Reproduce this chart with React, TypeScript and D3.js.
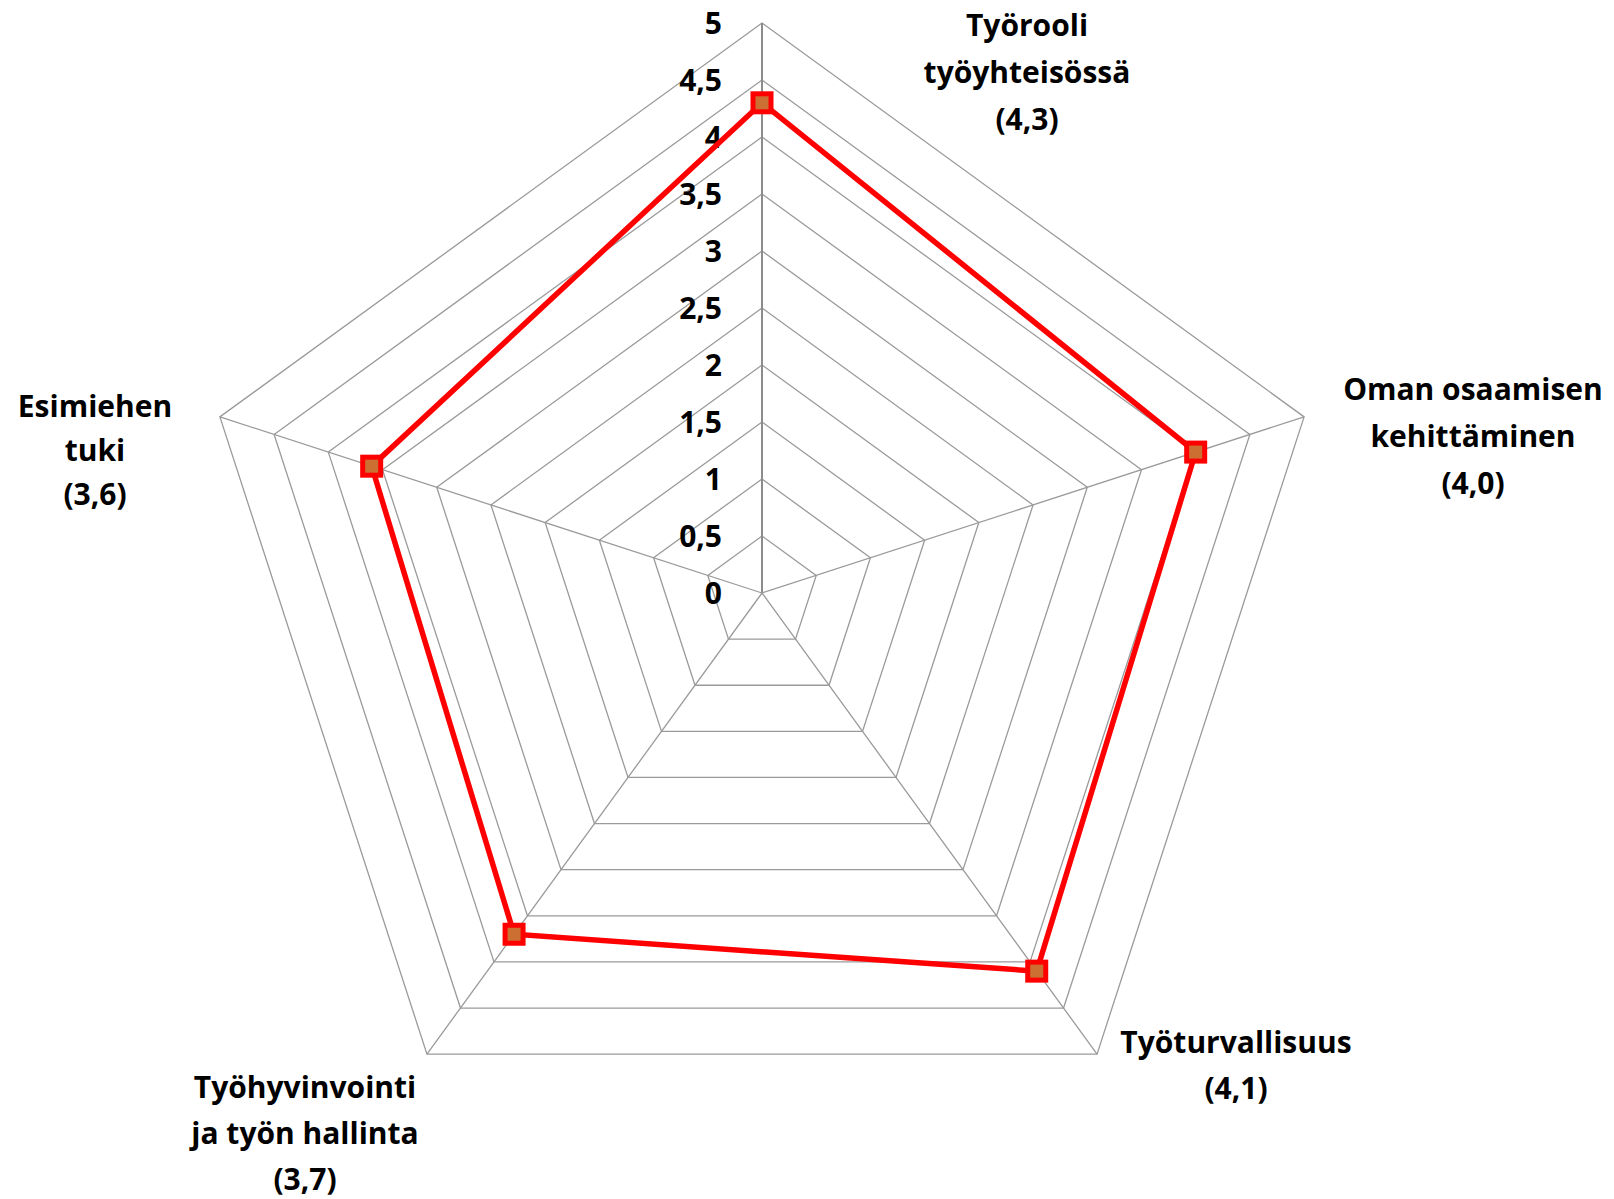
import React from "react";
import * as d3 from "d3";

const categories: string[][] = [
  ["Työrooli", "työyhteisössä", "(4,3)"],
  ["Oman osaamisen", "kehittäminen", "(4,0)"],
  ["Työturvallisuus", "(4,1)"],
  ["Työhyvinvointi", "ja työn hallinta", "(3,7)"],
  ["Esimiehen", "tuki", "(3,6)"],
];
const values: number[] = [4.3, 4.0, 4.1, 3.7, 3.6];
const tickValues: number[] = [0, 0.5, 1, 1.5, 2, 2.5, 3, 3.5, 4, 4.5, 5];
const tickLabels: string[] = ["0", "0,5", "1", "1,5", "2", "2,5", "3", "3,5", "4", "4,5", "5"];

// label anchor positions (center x, first-line baseline y)
const labelPos: { x: number; y: number; lh: number }[] = [
  { x: 1027, y: 36, lh: 47 },
  { x: 1473, y: 400, lh: 47 },
  { x: 1236, y: 1053, lh: 46 },
  { x: 305, y: 1098, lh: 46 },
  { x: 95, y: 417, lh: 44 },
];

const W = 1614;
const H = 1199;
const cx = 762;
const cy = 593;
const R = 570;

export default function App() {
  const r = d3.scaleLinear().domain([0, 5]).range([0, R]);
  const n = categories.length;
  const ang = (i: number) => (i * 2 * Math.PI) / n;
  const pt = (i: number, v: number): [number, number] => [
    cx + r(v) * Math.sin(ang(i)),
    cy - r(v) * Math.cos(ang(i)),
  ];
  const line = d3.line<[number, number]>().curve(d3.curveLinearClosed);
  const font = "'Open Sans', Lato, sans-serif";

  return (
    <svg width={W} height={H} style={{ position: "absolute", left: 0, top: 0, background: "#fff" }}>
      <g>
        {tickValues.slice(1).map((t, k) => (
          <path
            key={"g" + k}
            d={line(d3.range(n).map((i) => pt(i, t))) || ""}
            fill="none"
            stroke="#9a9a9a"
            strokeWidth={1.3}
          />
        ))}
        {d3.range(n).map((i) => {
          const [x, y] = pt(i, 5);
          return (
            <line
              key={"s" + i}
              x1={cx}
              y1={cy}
              x2={x}
              y2={y}
              stroke={i === 0 ? "#8c8c8c" : "#9a9a9a"}
              strokeWidth={i === 0 ? 2 : 1.3}
            />
          );
        })}
      </g>
      <g fontFamily={font} fontWeight={700} fontSize={30} fill="#000">
        {tickValues.map((t, k) => (
          <text key={"t" + k} x={cx - 40} y={cy - r(t) + 11} textAnchor="end">
            {tickLabels[k]}
          </text>
        ))}
      </g>
      <path
        d={line(values.map((v, i) => pt(i, v))) || ""}
        fill="none"
        stroke="#ff0000"
        strokeWidth={5.5}
        strokeLinejoin="miter"
      />
      {values.map((v, i) => {
        const [x, y] = pt(i, v);
        return (
          <rect
            key={"m" + i}
            x={x - 9}
            y={y - 9}
            width={18}
            height={18}
            fill="#cc6f33"
            stroke="#ff0000"
            strokeWidth={5}
          />
        );
      })}
      <g fontFamily={font} fontWeight={700} fontSize={30} fill="#000" textAnchor="middle">
        {categories.map((lines, i) => (
          <text key={"c" + i}>
            {lines.map((s, j) => (
              <tspan key={j} x={labelPos[i].x} y={labelPos[i].y + j * labelPos[i].lh}>
                {s}
              </tspan>
            ))}
          </text>
        ))}
      </g>
    </svg>
  );
}
